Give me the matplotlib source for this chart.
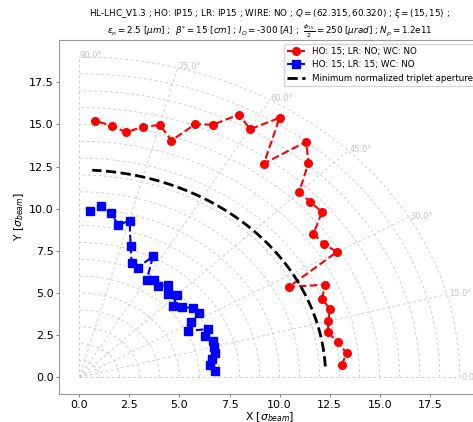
import numpy as np
import matplotlib
matplotlib.use('Agg')
import matplotlib.pyplot as plt

# DA scan, HO only (red)
x_ho = [13.10, 13.35, 12.91, 12.41, 12.44, 12.51, 12.12, 12.27, 10.47, 12.86,
        12.21, 11.69, 12.12, 11.53, 10.98, 11.44, 11.33, 9.22, 10.00, 8.54,
        7.96, 6.67, 5.79, 4.60, 4.03, 3.18, 2.34, 1.61, 0.80]
y_ho = [0.72, 1.43, 2.08, 2.68, 3.35, 4.06, 4.66, 5.49, 5.37, 7.43,
        7.92, 8.51, 9.80, 10.41, 10.98, 12.71, 13.98, 12.68, 15.39, 14.72,
        15.58, 14.98, 15.02, 14.04, 14.96, 14.86, 14.53, 14.92, 15.21]

# DA scan, HO + LR (blue)
x_lr = [6.80, 6.52, 6.64, 6.77, 6.75, 6.67, 6.27, 6.44, 5.44, 5.57,
        5.96, 5.69, 5.11, 4.70, 4.86, 4.45, 4.43, 3.93, 3.73, 3.37,
        3.68, 2.92, 2.61, 2.56, 2.51, 1.94, 1.56, 1.08, 0.53]
y_lr = [0.39, 0.72, 1.08, 1.47, 1.78, 2.15, 2.43, 2.86, 2.76, 3.25,
        3.84, 4.12, 4.15, 4.24, 4.86, 4.96, 5.45, 5.41, 5.78, 5.78,
        7.18, 6.51, 6.78, 7.78, 9.27, 9.06, 9.76, 10.14, 9.84]

# minimum normalized triplet aperture
aperture_r = 12.3
aperture_ang = [3, 87]  # deg

grid_radii = list(range(1, 20))
grid_angles = [0, 15, 30, 45, 60, 75, 90]

fig = plt.figure(figsize=(4.73, 4.22), dpi=100)
ax = fig.add_axes([0.1254, 0.066, 0.889, 0.839])

# polar grid
gcol = '#cfcfcf'
t = np.radians(np.linspace(0, 90, 200))
for r in grid_radii:
    ax.plot(r * np.cos(t), r * np.sin(t), color=gcol, lw=0.7, ls=(0, (3, 2.5)), zorder=0)
for a in grid_angles:
    ar = np.radians(a)
    ax.plot([0, 19 * np.cos(ar)], [0, 19 * np.sin(ar)], color=gcol, lw=0.7, ls=(0, (3, 2.5)), zorder=0)
    ax.text(19.1 * np.cos(ar), 19.1 * np.sin(ar), f'{a:.1f}°', color='#c4c4c4',
            fontsize=6, ha='left', va='center')

ax.plot(x_ho, y_ho, '--', color='red', marker='o', ms=5.5, lw=1.5,
        label='HO: 15; LR: NO; WC: NO')
ax.plot(x_lr, y_lr, '--', color='blue', marker='s', ms=5.5, lw=1.5,
        label='HO: 15; LR: 15; WC: NO')
ta = np.radians(np.linspace(aperture_ang[0], aperture_ang[1], 200))
ax.plot(aperture_r * np.cos(ta), aperture_r * np.sin(ta), '--', color='black', lw=2,
        label='Minimum normalized triplet aperture')

ax.set_xlim(-1, 20)
ax.set_ylim(-1, 20)
ax.set_xticks(np.arange(0, 20, 2.5))
ax.set_yticks(np.arange(0, 20, 2.5))
ax.tick_params(labelsize=8, color='#888888', length=2.5, pad=1.5)
for s in ax.spines.values():
    s.set_color('#999999')

ax.set_xlabel(r'X [$\sigma_{beam}$]', fontsize=7.8, labelpad=0)
ax.set_ylabel(r'Y [$\sigma_{beam}$]', fontsize=7.8, labelpad=2)
ax.set_title('HL-LHC_V1.3 ; HO: IP15 ; LR: IP15 ; WIRE: NO ; $Q=(62.315, 60.320)$ ; $\\xi=(15, 15)$ ;\n'
             r'$\epsilon_n=2.5$ [$\mu m$] ;  $\beta^{*}=15$ [$cm$] ; $I_O=$-300 [$A$] ;  '
             r'$\frac{\phi_{15}}{2}=250$ [$\mu rad$] ; $N_p=1.2$e11',
             fontsize=6.3, pad=3)
ax.legend(loc='upper right', fontsize=6.3, handlelength=2, borderaxespad=0.4)

fig.savefig('out.png', dpi=100)
